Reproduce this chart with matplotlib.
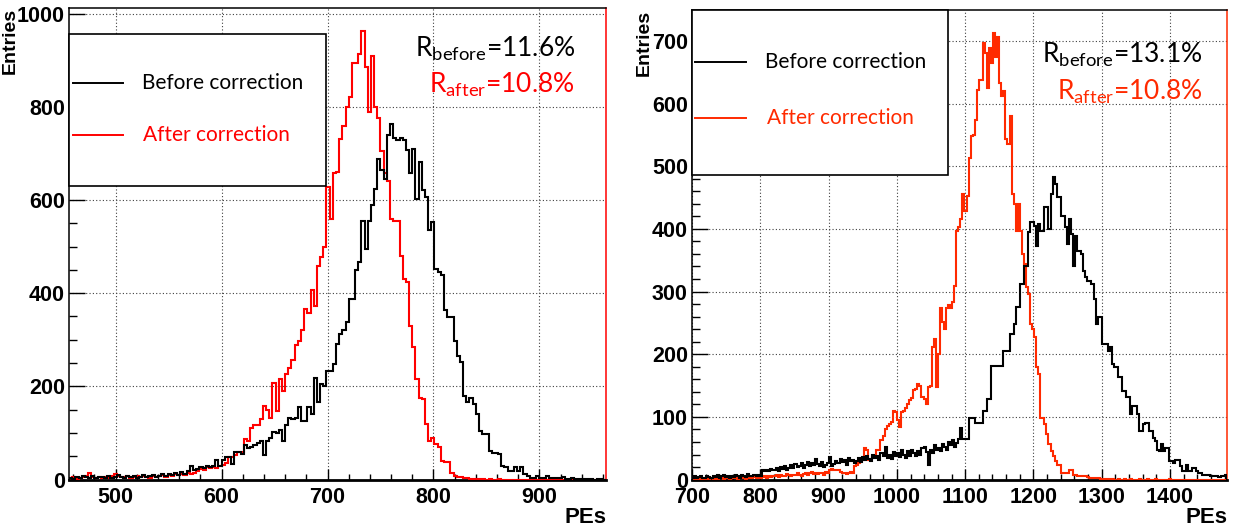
import matplotlib.pyplot as plt
import numpy as np
from matplotlib.patches import Rectangle
from matplotlib.ticker import MultipleLocator

BIN_WIDTH = 3

# left panel: bins start at 456 PEs
left_start = 456
left_before = [
    4, 2, 6, 3, 8, 5, 3, 7, 4, 6,
    5, 3, 8, 4, 6, 9, 5, 4, 7, 5,
    8, 4, 6, 9, 5, 7, 10, 6, 8, 11,
    7, 12, 9, 14, 10, 16, 13, 18, 29, 20,
    23, 27, 25, 30, 28, 30, 41, 30, 41, 49,
    49, 34, 60, 60, 56, 74, 67, 70, 74, 78,
    82, 52, 82, 90, 103, 100, 107, 82, 118, 133,
    129, 133, 155, 126, 126, 155, 141, 219, 166, 205,
    201, 234, 234, 248, 291, 313, 320, 338, 388, 388,
    449, 467, 556, 495, 556, 589, 624, 689, 664, 646,
    739, 764, 732, 728, 732, 728, 707, 657, 710, 603,
    682, 621, 606, 535, 553, 452, 445, 438, 363, 348,
    348, 298, 266, 252, 180, 166, 176, 162, 141, 105,
    97, 97, 62, 58, 58, 54, 29, 26, 19, 19,
    26, 19, 26, 11, 8, 4, 4, 8, 4, 4,
    8, 3, 3, 3, 3, 5, 2, 2, 3, 1,
    2, 1, 2, 1, 1, 0, 1, 1, 0,
]
left_after = [
    3, 5, 2, 4, 6, 8, 14, 6, 4, 5,
    3, 6, 4, 8, 12, 7, 6, 5, 7, 4,
    6, 8, 5, 7, 6, 4, 8, 5, 7, 9,
    6, 10, 8, 11, 9, 12, 10, 14, 12, 15,
    18, 22, 20, 26, 24, 28, 25, 30, 31, 35,
    49, 49, 52, 60, 60, 87, 82, 111, 118, 118,
    129, 158, 150, 133, 207, 147, 216, 191, 227, 240,
    257, 289, 297, 320, 366, 357, 407, 372, 459, 477,
    500, 628, 559, 659, 661, 731, 759, 799, 822, 895,
    895, 913, 963, 885, 788, 910, 799, 777, 706, 659,
    640, 560, 556, 556, 480, 430, 424, 330, 285, 215,
    176, 173, 120, 83, 90, 76, 69, 40, 37, 37,
    15, 8, 6, 5, 3, 3, 2, 2, 1, 1,
    1, 0, 1, 0, 0, 1, 0, 0, 0, 0,
    0, 0, 0, 0, 0, 0, 0, 0, 0, 0,
    0, 0, 0, 0, 0, 0, 0, 0, 0, 0,
    0, 0, 0, 0, 0, 0, 0, 0, 0,
]

# right panel: bins start at 700 PEs
right_start = 700
right_before = [
    3, 5, 2, 4, 6, 3, 2, 5, 4, 3,
    5, 4, 7, 3, 6, 8, 4, 5, 3, 6,
    4, 7, 5, 3, 8, 6, 4, 9, 5, 6,
    7, 5, 8, 6, 15, 14, 16, 13, 17, 15,
    16, 18, 14, 20, 17, 22, 15, 19, 24, 18,
    25, 20, 22, 27, 19, 24, 28, 21, 26, 23,
    33, 25, 22, 28, 20, 24, 27, 36, 22, 25,
    30, 26, 33, 28, 31, 24, 35, 29, 32, 27,
    30, 34, 28, 36, 31, 38, 33, 29, 40, 35,
    37, 32, 42, 38, 52, 35, 40, 33, 44, 38,
    42, 36, 47, 40, 35, 45, 38, 48, 42, 37,
    46, 40, 50, 52, 44, 23, 48, 42, 55, 47,
    50, 45, 57, 52, 48, 60, 55, 63, 52, 58,
    65, 83, 64, 64, 64, 99, 99, 99, 90, 90,
    90, 90, 109, 109, 128, 128, 181, 181, 181, 181,
    181, 181, 205, 205, 205, 232, 232, 248, 275, 275,
    312, 312, 341, 341, 395, 411, 411, 405, 373, 408,
    397, 397, 435, 435, 400, 456, 483, 472, 451, 451,
    421, 421, 403, 376, 416, 392, 341, 389, 365, 365,
    360, 333, 323, 317, 317, 312, 288, 248, 259, 259,
    216, 216, 216, 205, 211, 184, 179, 179, 163, 163,
    141, 141, 131, 131, 104, 117, 117, 104, 77, 77,
    88, 91, 91, 77, 77, 67, 61, 48, 45, 56,
    45, 51, 51, 29, 29, 27, 32, 32, 21, 13,
    13, 24, 13, 13, 19, 19, 13, 11, 11, 8,
    8, 8, 8, 5, 5, 5, 5, 4, 5, 5,
    8,
]
right_after = [
    2, 1, 3, 0, 2, 1, 0, 2, 1, 3,
    1, 2, 0, 3, 2, 1, 4, 2, 1, 2,
    2, 3, 1, 2, 4, 2, 1, 3, 2, 3,
    4, 2, 5, 3, 4, 6, 3, 5, 4, 6,
    5, 7, 4, 8, 6, 5, 9, 7, 6, 8,
    7, 10, 8, 6, 9, 11, 8, 10, 12, 9,
    10, 9, 11, 10, 8, 12, 10, 15, 17, 16,
    15, 16, 12, 10, 11, 9, 10, 12, 11, 22,
    23, 26, 31, 31, 50, 48, 31, 33, 36, 38,
    47, 48, 63, 70, 81, 86, 88, 92, 110, 108,
    95, 84, 108, 110, 115, 121, 127, 130, 143, 145,
    153, 150, 132, 128, 121, 148, 150, 212, 225, 148,
    200, 273, 251, 240, 273, 278, 273, 283, 309, 397,
    403, 416, 456, 429, 453, 513, 548, 550, 574, 621,
    637, 637, 697, 680, 624, 688, 665, 713, 675, 706,
    632, 612, 620, 544, 535, 580, 456, 440, 397, 440,
    397, 360, 344, 307, 296, 248, 240, 227, 179, 168,
    99, 99, 88, 72, 56, 45, 37, 29, 24, 24,
    11, 11, 11, 11, 16, 16, 8, 8, 5, 5,
    5, 5, 5, 4, 2, 2, 2, 2, 2, 1,
    1, 0, 1, 1, 0, 1, 0, 0, 1, 0,
    0, 1, 0, 0, 1, 0, 0, 0, 1, 0,
    0, 0, 1, 0, 0, 0, 1, 0, 0, 0,
    0, 0, 0, 1, 0, 0, 0, 0, 0, 0,
    0, 0, 0, 0, 0, 0, 0, 0, 0, 0,
    0, 0, 0, 0, 0, 0, 0, 0, 0, 0,
    0,
]

legend_labels = ["Before correction", "After correction"]
left_res = ["11.6%", "10.8%"]
right_res = ["13.1%", "10.8%"]

plt.rcParams["font.family"] = ["Liberation Sans Narrow", "Liberation Sans"]
plt.rcParams["font.weight"] = "bold"
TEXT_FONT = "Lato"


def draw_panel(ax, start, before, after, red, xlim, ylim, ystep, yminor,
               res, box, res_pos):
    edges = start + BIN_WIDTH * np.arange(len(before) + 1)
    ax.stairs(after, edges, color=red, lw=1.5, zorder=3)
    ax.stairs(before, edges, color="black", lw=1.5, zorder=3)

    ax.set_xlim(*xlim)
    ax.set_ylim(*ylim)
    ax.xaxis.set_major_locator(MultipleLocator(100))
    ax.xaxis.set_minor_locator(MultipleLocator(20))
    ax.yaxis.set_major_locator(MultipleLocator(ystep))
    ax.yaxis.set_minor_locator(MultipleLocator(yminor))
    ax.tick_params(which="both", direction="in", top=False, right=False,
                   labelsize=15.5, width=1)
    ax.tick_params(axis="x", which="major", length=8, pad=5)
    ax.tick_params(axis="x", which="minor", length=4)
    ax.tick_params(axis="y", which="major", length=11.5, pad=3)
    ax.tick_params(axis="y", which="minor", length=5.8)
    ax.grid(True, which="major", ls=(0, (1, 2)), lw=0.8, color="0.25")
    ax.set_axisbelow(True)
    for side in ax.spines:
        ax.spines[side].set_linewidth(1.1)
    ax.spines["right"].set_color(red)
    ax.spines["bottom"].set_linewidth(2.0)

    ax.set_ylabel("Entries", loc="top", fontsize=14, fontweight="bold")
    ax.set_xlabel("PEs", loc="right", fontsize=16, fontweight="bold")

    # legend box drawn as in the ROOT canvas
    x1, y0, y1, lx0, lx1, ly_b, ly_a, tx_b, tx_a = box
    ax.add_patch(Rectangle((0, y0), x1, y1 - y0, transform=ax.transAxes,
                           facecolor="white", edgecolor="black", lw=1.2,
                           zorder=5, clip_on=False))
    ax.plot([lx0, lx1], [ly_b, ly_b], color="black", lw=1.4,
            transform=ax.transAxes, zorder=6)
    ax.plot([lx0, lx1], [ly_a, ly_a], color=red, lw=1.4,
            transform=ax.transAxes, zorder=6)
    ax.text(tx_b, ly_b, legend_labels[0], transform=ax.transAxes,
            ha="left", va="center", family=TEXT_FONT, weight="normal",
            size=15, color="black", zorder=7)
    ax.text(tx_a, ly_a, legend_labels[1], transform=ax.transAxes,
            ha="left", va="center", family=TEXT_FONT, weight="normal",
            size=15, color=red, zorder=7)

    rx, ry_b, ry_a = res_pos
    ax.text(rx, ry_b, r"R$_\mathregular{before}$=" + res[0],
            transform=ax.transAxes, ha="right", va="baseline",
            family=TEXT_FONT, weight="normal", size=19, color="black",
            zorder=7)
    ax.text(rx, ry_a, r"R$_\mathregular{after}$=" + res[1],
            transform=ax.transAxes, ha="right", va="baseline",
            family=TEXT_FONT, weight="normal", size=19, color=red,
            zorder=7)


fig = plt.figure(figsize=(12.42, 5.31), dpi=100)
ax1 = fig.add_axes([0.0556, 0.0968, 0.4324, 0.889])
ax2 = fig.add_axes([0.5572, 0.0968, 0.431, 0.8853])

draw_panel(ax1, left_start, left_before, left_after, "#ff0000",
           (456, 963), (0, 1013), 200, 50, left_res,
           (0.478, 0.6225, 0.944, 0.007, 0.100, 0.8394, 0.731, 0.1354, 0.1384),
           (0.942, 0.897, 0.820))
draw_panel(ax2, right_start, right_before, right_after, "#ff2a00",
           (700, 1484), (0, 750), 100, 20, right_res,
           (0.478, 0.648, 1.0, 0.0054, 0.1007, 0.888, 0.769, 0.1354, 0.1406),
           (0.953, 0.887, 0.809))

ax1.yaxis.set_label_coords(-0.093, 1.0)
ax1.xaxis.set_label_coords(1.0, -0.058)
ax2.yaxis.set_label_coords(-0.074, 1.0)
ax2.xaxis.set_label_coords(1.0, -0.059)

fig.savefig("out.png", dpi=100)
